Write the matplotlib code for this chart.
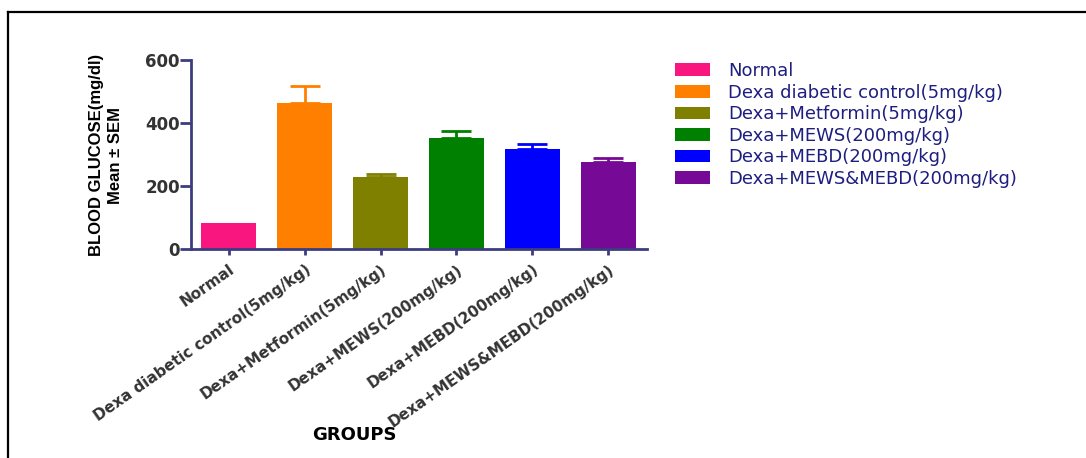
import matplotlib
matplotlib.use("Agg")
import matplotlib.pyplot as plt
from matplotlib.lines import Line2D

# data
groups = ["Normal", "Dexa diabetic control(5mg/kg)", "Dexa+Metformin(5mg/kg)",
          "Dexa+MEWS(200mg/kg)", "Dexa+MEBD(200mg/kg)", "Dexa+MEWS&MEBD(200mg/kg)"]
means = [84, 465, 230, 352, 319, 278]
sems = [0, 53, 9, 24, 14, 11]
colors = ["#F9167F", "#FF8000", "#808000", "#008000", "#0000FF", "#760A96"]

axis_col = "#3C3C80"
tick_col = "#333333"
legend_col = "#1E1E80"

fig = plt.figure(figsize=(10.86, 4.58), dpi=100)
ax = fig.add_axes([0.1759, 0.4557, 0.4196, 0.4133])

x = list(range(len(groups)))
bars = ax.bar(x, means, width=0.725, color=colors, edgecolor="none", zorder=2)
for xi, m, s, c in zip(x, means, sems, colors):
    if s > 0:
        ax.errorbar(xi, m, yerr=[[0], [s]], fmt="none", ecolor=c,
                    elinewidth=2, capsize=11, capthick=2, zorder=1)

ax.set_xlim(-0.5, 5.51)
ax.set_ylim(0, 600)
ax.set_yticks([0, 200, 400, 600])

for side in ["top", "right"]:
    ax.spines[side].set_visible(False)
for side in ["left", "bottom"]:
    ax.spines[side].set_color(axis_col)
    ax.spines[side].set_linewidth(2)

ax.tick_params(axis="y", length=8, width=2, color=axis_col, pad=0,
               labelsize=12, labelcolor=tick_col)
ax.tick_params(axis="x", length=4, width=2, color=axis_col, pad=5)
for lab in ax.get_yticklabels():
    lab.set_fontweight("bold")

ax.set_xticks(x)
ax.set_xticklabels(groups, rotation=35, ha="right", va="top",
                   rotation_mode="anchor", fontsize=11, fontweight="bold",
                   color=tick_col)

fig.text(106 / 1086, 1 - 155 / 458, "BLOOD GLUCOSE(mg/dl)\nMean ± SEM",
         rotation=90, ha="center", va="center", multialignment="center",
         fontsize=12, fontweight="bold", linespacing=1.3,
         family=["Liberation Sans Narrow", "Liberation Sans", "DejaVu Sans"])

fig.text(354 / 1086, 1 - 435 / 458, "GROUPS", ha="center", va="center",
         fontsize=13, fontweight="bold", color="black")

leg = fig.legend(bars, groups, loc="upper left",
                 bbox_to_anchor=(675 / 1086, 1 - 62 / 458),
                 frameon=False, fontsize=13, borderpad=0, borderaxespad=0,
                 handlelength=1.95, handleheight=0.7, handletextpad=1.0,
                 labelspacing=0.2)
for t in leg.get_texts():
    t.set_color(legend_col)

# outer frame (top and left edges only visible)
fig.add_artist(Line2D([8 / 1086, 8 / 1086], [0, 1 - 12 / 458],
                      transform=fig.transFigure, color="black", lw=1.6))
fig.add_artist(Line2D([8 / 1086, 1], [1 - 12 / 458, 1 - 12 / 458],
                      transform=fig.transFigure, color="black", lw=1.6))

fig.savefig("out.png", dpi=100)
